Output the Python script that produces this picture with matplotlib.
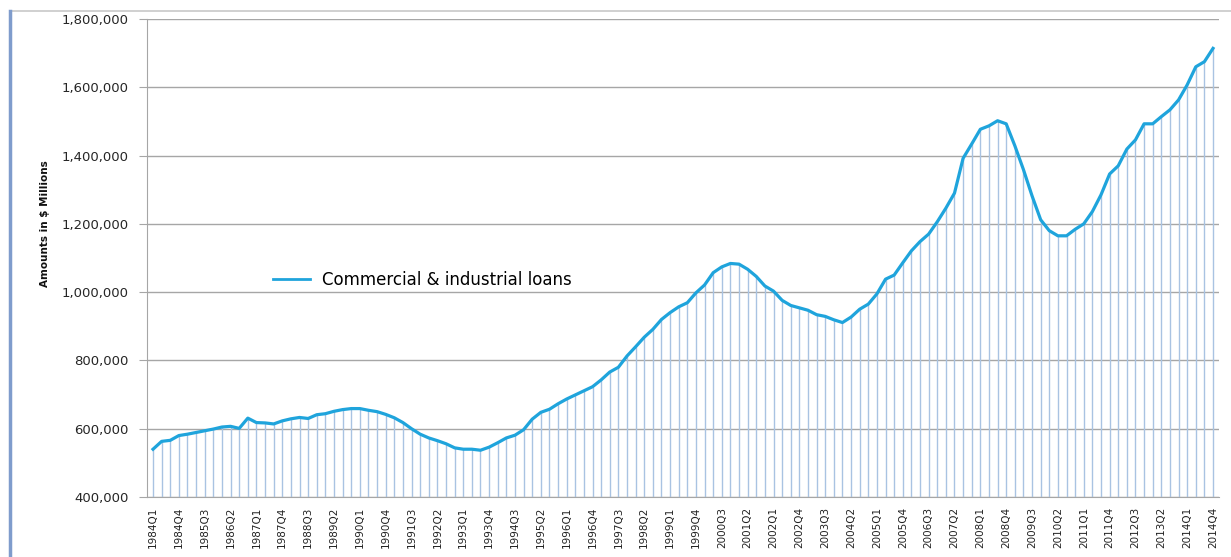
import matplotlib
matplotlib.use("Agg")
import matplotlib.pyplot as plt
from matplotlib.lines import Line2D
from matplotlib.ticker import FuncFormatter

# quarterly C&I loans, $ millions, 1984Q1 .. 2014Q4
years = list(range(1984, 2015))
quarters = [f"{y}Q{q}" for y in years for q in range(1, 5)]
loans = [
    540, 563, 566, 580, 584, 589, 594, 599, 605, 607, 601, 631,
    618, 617, 614, 623, 629, 633, 630, 641, 644, 651, 656, 659,
    659, 654, 650, 642, 632, 618, 600, 584, 573, 565, 556, 544,
    540, 540, 537, 546, 559, 573, 581, 597, 628, 648, 657, 673,
    687, 699, 711, 723, 743, 766, 780, 813, 840, 868, 891, 920,
    940, 957, 969, 998, 1021, 1057, 1074, 1084, 1082, 1067, 1046, 1018,
    1003, 976, 961, 954, 947, 934, 929, 919, 911, 927, 950, 965,
    995, 1038, 1050, 1086, 1121, 1148, 1170, 1206, 1246, 1290, 1392, 1434,
    1477, 1487, 1502, 1493, 1429, 1359, 1282, 1212, 1180, 1165, 1165, 1184,
    1200, 1236, 1285, 1346, 1370, 1419, 1446, 1493, 1493, 1514, 1534, 1563,
    1607, 1660, 1675, 1714,
]
loans = [v * 1000 for v in loans]
series_name = "Commercial & industrial loans"
y_ticks = [400000, 600000, 800000, 1000000, 1200000, 1400000, 1600000, 1800000]

line_col = "#1fa4dc"
drop_col = "#a9c3e2"
grid_col = "#a6a6a6"

fig = plt.figure(figsize=(12.31, 5.57), dpi=100)
ax = fig.add_axes([0.1194, 0.1077, 0.8709, 0.8582])

x = list(range(len(quarters)))
ax.vlines(x, y_ticks[0], loans, colors=drop_col, linewidth=1.0, zorder=2)
ax.plot(x, loans, color=line_col, linewidth=2.3, zorder=3, solid_joinstyle="round")

ax.set_xlim(-0.7, len(quarters) - 0.3)
ax.set_ylim(y_ticks[0], y_ticks[-1])
ax.set_yticks(y_ticks)
ax.yaxis.set_major_formatter(FuncFormatter(lambda v, p: f"{int(v):,}"))
ax.grid(axis="y", color=grid_col, linewidth=1.0, zorder=1)
ax.set_axisbelow(True)

ax.set_xticks(x[::3])
ax.set_xticklabels(quarters[::3], rotation=90, fontsize=7.5,
                   color="#222222", va="top")
ax.tick_params(axis="x", length=0, pad=7)
ax.tick_params(axis="y", length=6, color=grid_col, pad=7, labelsize=9.5,
               labelcolor="#262626")

for s in ["top", "right"]:
    ax.spines[s].set_visible(False)
for s in ["left", "bottom"]:
    ax.spines[s].set_color(grid_col)

fig.text(0.0366, 1 - 224 / 557, "Amounts in $ Millions", rotation=90,
         ha="center", va="center", fontsize=7.5, fontweight="bold",
         color="#111111")

handle = Line2D([], [], color=line_col, linewidth=2.0)
fig.legend([handle], [series_name], loc="center left",
           bbox_to_anchor=(273 / 1231, 1 - 280 / 557), frameon=False,
           borderaxespad=0, borderpad=0, handlelength=2.2, handletextpad=0.75,
           prop={"size": 12})

# outer frame of the pasted chart
fig.add_artist(Line2D([10 / 1231, 1], [1 - 11 / 557, 1 - 11 / 557],
                      transform=fig.transFigure, color="#c8c8c8", linewidth=1.2))
fig.add_artist(Line2D([10 / 1231, 10 / 1231], [0, 1 - 11 / 557],
                      transform=fig.transFigure, color="#7f9ccc", linewidth=2.5))

fig.savefig("out.png", dpi=100, facecolor="white")
